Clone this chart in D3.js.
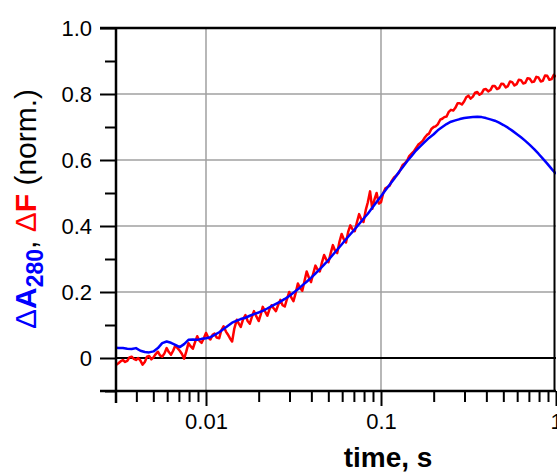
<!DOCTYPE html>
<html><head><meta charset="utf-8">
<script src="https://cdn.jsdelivr.net/npm/d3@7"></script>
<style>body{margin:0;background:#fff}svg{display:block}text{font-family:"Liberation Sans",Arial,sans-serif}</style>
</head><body>
<svg id="c" width="557" height="474"></svg>
<script>
// ΔA280 trace (blue)
const absTimes = [0.00306,
0.00316,0.00335,0.00355,0.00376,0.00398,0.00422,0.00447,0.00473,0.00501,0.00531,
0.00562,0.00596,0.00631,0.00668,0.00708,0.00750,0.00794,0.00841,0.00891,0.00944,
0.0100,0.0106,0.0112,0.0119,0.0126,0.0133,0.0141,0.0150,0.0158,0.0168,
0.0178,0.0188,0.0200,0.0211,0.0224,0.0237,0.0251,0.0266,0.0282,0.0299,
0.0316,0.0335,0.0355,0.0376,0.0398,0.0422,0.0447,0.0473,0.0501,0.0531,
0.0562,0.0596,0.0631,0.0668,0.0708,0.0750,0.0794,0.0841,0.0891,0.0944,
0.100,0.106,0.112,0.119,0.126,0.133,0.141,0.150,0.158,0.168,
0.178,0.188,0.200,0.211,0.224,0.237,0.251,0.266,0.282,0.299,
0.316,0.335,0.355,0.376,0.398,0.422,0.447,0.473,0.501,0.531,
0.562,0.596,0.631,0.668,0.708,0.750,0.794,0.841,0.891,0.944,1.00];

const absorbance = [0.031,
0.030,0.030,0.028,0.027,0.030,0.022,0.018,0.017,0.020,0.030,
0.045,0.050,0.046,0.040,0.033,0.042,0.055,0.056,0.055,0.058,
0.060,0.063,0.070,0.078,0.088,0.097,0.107,0.113,0.118,0.122,
0.128,0.133,0.138,0.143,0.150,0.157,0.164,0.171,0.179,0.188,
0.198,0.208,0.220,0.231,0.243,0.256,0.269,0.283,0.297,0.313,
0.328,0.344,0.360,0.375,0.390,0.406,0.422,0.437,0.455,0.473,
0.490,0.508,0.525,0.543,0.562,0.578,0.596,0.613,0.628,0.642,
0.655,0.667,0.678,0.690,0.700,0.709,0.716,0.720,0.724,0.727,
0.729,0.730,0.731,0.730,0.727,0.723,0.719,0.713,0.706,0.698,
0.689,0.679,0.669,0.658,0.646,0.633,0.619,0.604,0.589,0.573,0.558];

// ΔF trace (red)
const fluTimes = [0.00306,
0.00316,0.00325,0.00335,0.00345,0.00355,0.00365,0.00376,0.00387,0.00398,0.00410,
0.00422,0.00434,0.00447,0.00460,0.00473,0.00487,0.00501,0.00516,0.00531,0.00546,
0.00562,0.00579,0.00596,0.00613,0.00631,0.00649,0.00668,0.00688,0.00708,0.00729,
0.00750,0.00772,0.00794,0.00818,0.00841,0.00866,0.00891,0.00917,0.00944,0.00972,
0.0100,0.0103,0.0106,0.0109,0.0112,0.0115,0.0119,0.0122,0.0126,0.0130,
0.0133,0.0137,0.0141,0.0145,0.0150,0.0154,0.0158,0.0163,0.0168,0.0173,
0.0178,0.0183,0.0188,0.0194,0.0200,0.0205,0.0211,0.0218,0.0224,0.0230,
0.0237,0.0244,0.0251,0.0259,0.0266,0.0274,0.0282,0.0290,0.0299,0.0307,
0.0316,0.0325,0.0335,0.0345,0.0355,0.0365,0.0376,0.0387,0.0398,0.0410,
0.0422,0.0434,0.0447,0.0460,0.0473,0.0487,0.0501,0.0516,0.0531,0.0546,
0.0562,0.0579,0.0596,0.0613,0.0631,0.0649,0.0668,0.0688,0.0708,0.0729,
0.0750,0.0772,0.0794,0.0818,0.0841,0.0866,0.0891,0.0917,0.0944,0.0972,
0.100,0.103,0.106,0.109,0.112,0.115,0.119,0.122,0.126,0.130,
0.133,0.137,0.141,0.145,0.150,0.154,0.158,0.163,0.168,0.173,
0.178,0.183,0.188,0.194,0.200,0.205,0.211,0.218,0.224,0.230,
0.237,0.244,0.251,0.259,0.266,0.274,0.282,0.290,0.299,0.307,
0.316,0.325,0.335,0.345,0.355,0.365,0.376,0.387,0.398,0.410,
0.422,0.434,0.447,0.460,0.473,0.487,0.501,0.516,0.531,0.546,
0.562,0.579,0.596,0.613,0.631,0.649,0.668,0.688,0.708,0.729,
0.750,0.772,0.794,0.818,0.841,0.866,0.891,0.917,0.944,0.972,1.00];

const fluorescence = [-0.021,
-0.016,-0.010,-0.006,-0.012,-0.009,0.002,0.004,-0.003,-0.006,0.000,
-0.008,-0.020,-0.012,0.004,0.006,-0.004,0.002,0.012,0.019,0.008,
0.004,0.014,0.030,0.018,0.010,0.022,0.038,0.030,0.022,0.012,
-0.002,0.020,0.045,0.035,0.028,0.048,0.066,0.052,0.046,0.060,
0.076,0.062,0.056,0.070,0.074,0.062,0.060,0.082,0.096,0.080,
0.072,0.060,0.050,0.088,0.116,0.104,0.094,0.118,0.130,0.112,
0.104,0.125,0.142,0.126,0.112,0.130,0.155,0.140,0.128,0.146,
0.160,0.150,0.142,0.162,0.176,0.160,0.156,0.178,0.200,0.184,
0.172,0.196,0.226,0.212,0.204,0.232,0.262,0.244,0.230,0.256,
0.280,0.268,0.262,0.290,0.312,0.298,0.290,0.318,0.342,0.326,
0.318,0.352,0.376,0.360,0.350,0.382,0.402,0.390,0.384,0.412,
0.436,0.420,0.412,0.448,0.472,0.505,0.452,0.480,0.500,0.468,
0.472,0.500,0.514,0.518,0.522,0.536,0.548,0.552,0.560,0.574,
0.585,0.590,0.598,0.612,0.620,0.626,0.635,0.646,0.652,0.658,
0.668,0.676,0.680,0.694,0.700,0.702,0.708,0.722,0.725,0.730,
0.732,0.746,0.752,0.750,0.758,0.772,0.772,0.768,0.778,0.790,
0.795,0.786,0.792,0.804,0.806,0.798,0.802,0.814,0.815,0.808,
0.812,0.824,0.824,0.815,0.818,0.831,0.830,0.820,0.824,0.838,
0.836,0.826,0.830,0.843,0.842,0.832,0.834,0.848,0.846,0.836,
0.838,0.852,0.850,0.838,0.840,0.856,0.855,0.843,0.845,0.858,0.852];

const yTickValues = [0, 0.2, 0.4, 0.6, 0.8, 1.0];
const yTickLabels = ["0", "0.2", "0.4", "0.6", "0.8", "1.0"];
const yMinorValues = [-0.1, 0.1, 0.3, 0.5, 0.7, 0.9];
const xTickValues = [0.01, 0.1, 1];
const xTickLabels = ["0.01", "0.1", "1"];
const xMinorValues = [0.004,0.005,0.006,0.007,0.008,0.009,0.02,0.03,0.04,0.05,0.06,0.07,0.08,0.09,0.2,0.3,0.4,0.5,0.6,0.7,0.8,0.9];
const gridX = [0.01, 0.1];
const gridY = [0.2, 0.4, 0.6, 0.8];

const L = 116, R = 556, T = 28, B = 391;
const x = d3.scaleLog().domain([0.00306, 1]).range([L, R]);
const y = d3.scaleLinear().domain([-0.1, 1.0]).range([B, T]);

const svg = d3.select("#c");

svg.append("defs").append("clipPath").attr("id","clip")
  .append("rect").attr("x", L).attr("y", T).attr("width", R - L).attr("height", B - T);

// grid
svg.append("g").selectAll("line").data(gridX).join("line")
  .attr("x1", d => x(d)).attr("x2", d => x(d)).attr("y1", T).attr("y2", B)
  .attr("stroke", "#a0a0a0").attr("stroke-width", 1.5);
svg.append("g").selectAll("line").data(gridY).join("line")
  .attr("x1", L).attr("x2", R).attr("y1", d => y(d)).attr("y2", d => y(d))
  .attr("stroke", "#a0a0a0").attr("stroke-width", 1.5);

// zero line
svg.append("line").attr("x1", L).attr("x2", R).attr("y1", y(0)).attr("y2", y(0))
  .attr("stroke", "#000").attr("stroke-width", 2);

// curves
const g = svg.append("g").attr("clip-path", "url(#clip)");
const redLine = d3.line().x((d, i) => x(fluTimes[i])).y(d => y(d));
const blueLine = d3.line().x((d, i) => x(absTimes[i])).y(d => y(d));
g.append("path").attr("d", redLine(fluorescence)).attr("fill", "none")
  .attr("stroke", "#ff0000").attr("stroke-width", 2.5).attr("stroke-linejoin", "round");
g.append("path").attr("d", blueLine(absorbance)).attr("fill", "none")
  .attr("stroke", "#0000ff").attr("stroke-width", 2.5).attr("stroke-linejoin", "round");

// y axis
const yAxis = d3.axisLeft(y).tickValues(yTickValues).tickSize(16)
  .tickFormat((d, i) => yTickLabels[i]).tickPadding(8);
const ya = svg.append("g").attr("transform", `translate(${L},0)`).call(yAxis);
ya.select(".domain").remove();
ya.selectAll(".tick line").attr("stroke", "#000").attr("stroke-width", 2);
ya.selectAll(".tick text").attr("font-size", 22).attr("fill", "#000")
  .attr("font-family", "Liberation Sans, Arial, sans-serif");
const yMinor = d3.axisLeft(y).tickValues(yMinorValues).tickSize(11).tickFormat("");
const ym = svg.append("g").attr("transform", `translate(${L},0)`).call(yMinor);
ym.select(".domain").remove();
ym.selectAll(".tick line").attr("stroke", "#000").attr("stroke-width", 2);

// x axis
const xAxis = d3.axisBottom(x).tickValues(xTickValues).tickSize(15)
  .tickFormat((d, i) => xTickLabels[i]).tickPadding(7);
const xa = svg.append("g").attr("transform", `translate(0,${B})`).call(xAxis);
xa.select(".domain").remove();
xa.selectAll(".tick line").attr("stroke", "#000").attr("stroke-width", 2);
xa.selectAll(".tick text").attr("font-size", 22).attr("fill", "#000")
  .attr("font-family", "Liberation Sans, Arial, sans-serif");
const xMinor = d3.axisBottom(x).tickValues(xMinorValues).tickSize(11).tickFormat("");
const xm = svg.append("g").attr("transform", `translate(0,${B})`).call(xMinor);
xm.select(".domain").remove();
xm.selectAll(".tick line").attr("stroke", "#000").attr("stroke-width", 2);

// frame
svg.append("line").attr("x1", L - 16).attr("x2", R).attr("y1", B).attr("y2", B)
  .attr("stroke", "#000").attr("stroke-width", 2.5);
svg.append("line").attr("x1", L).attr("x2", L).attr("y1", T - 1).attr("y2", B + 12)
  .attr("stroke", "#000").attr("stroke-width", 2.5);
svg.append("line").attr("x1", L - 16).attr("x2", R).attr("y1", T).attr("y2", T)
  .attr("stroke", "#000").attr("stroke-width", 2.5);
svg.append("line").attr("x1", R - 1.5).attr("x2", R - 1.5).attr("y1", T).attr("y2", B)
  .attr("stroke", "#000").attr("stroke-width", 2);

// x title
svg.append("text").attr("x", 388).attr("y", 467).attr("text-anchor", "middle")
  .attr("font-size", 28).attr("font-weight", "bold").attr("fill", "#000").text("time, s");

// y title
const yt = svg.append("text").attr("transform", "translate(36,209) rotate(-90)")
  .attr("text-anchor", "middle").attr("font-size", 30).attr("fill", "#000");
yt.append("tspan").attr("fill", "#0000ff").text("\u0394");
yt.append("tspan").attr("fill", "#0000ff").attr("font-weight", "bold").text("A");
yt.append("tspan").attr("fill", "#0000ff").attr("font-weight", "bold").attr("font-size", 23).attr("dy", 7).text("280");
yt.append("tspan").attr("dy", -7).text(", ");
yt.append("tspan").attr("fill", "#ff0000").text("\u0394");
yt.append("tspan").attr("fill", "#ff0000").attr("font-weight", "bold").text("F");
yt.append("tspan").text(" (norm.)");
</script>
</body></html>
